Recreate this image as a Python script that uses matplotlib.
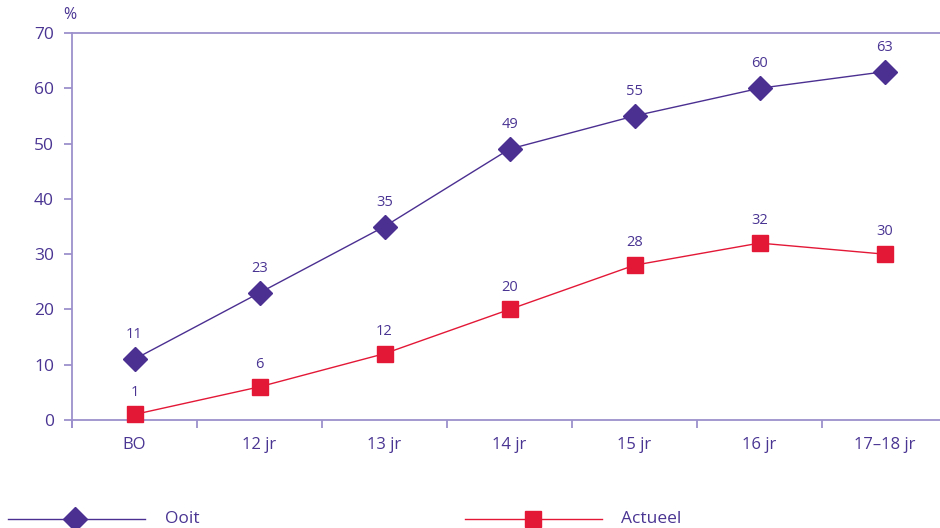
import matplotlib
matplotlib.use("Agg")
import matplotlib.pyplot as plt
from matplotlib.lines import Line2D

categories = ["BO", "12 jr", "13 jr", "14 jr", "15 jr", "16 jr", "17–18 jr"]
ooit = [11, 23, 35, 49, 55, 60, 63]
actueel = [1, 6, 12, 20, 28, 32, 30]
yticks = [0, 10, 20, 30, 40, 50, 60, 70]

TEXT = "#4a3593"
AXIS = "#9d91cd"
PURPLE = "#4b2f91"
RED = "#e31837"

plt.rcParams["font.family"] = ["Open Sans", "DejaVu Sans"]

fig = plt.figure(figsize=(9.4, 5.28), dpi=100)
W, H = 940, 528
ax = fig.add_axes([72 / W, 108 / H, 875 / W, 387 / H])

x = list(range(len(categories)))
ax.plot(x, ooit, color=PURPLE, lw=1, marker="D", ms=12,
        mfc=PURPLE, mec=PURPLE, zorder=3, clip_on=False)
ax.plot(x, actueel, color=RED, lw=1, marker="s", ms=11,
        mfc=RED, mec=RED, zorder=3, clip_on=False)

for xi, v in zip(x, ooit):
    ax.annotate(str(v), (xi, v), xytext=(0, 17.5), textcoords="offset points",
                ha="center", va="center", fontsize=10.5, color=TEXT)
for xi, v in zip(x, actueel):
    ax.annotate(str(v), (xi, v), xytext=(0, 16), textcoords="offset points",
                ha="center", va="center", fontsize=10.5, color=TEXT)

ax.set_xlim(-0.5, len(categories) - 0.5)
ax.set_ylim(0, 70)
ax.set_yticks(yticks)
ax.set_yticklabels([str(t) for t in yticks])
ax.set_xticks(x)
ax.set_xticklabels(categories)
ax.set_xticks([i - 0.5 for i in range(len(categories) + 1)], minor=True)

ax.spines["right"].set_visible(False)
for s in ["left", "bottom", "top"]:
    ax.spines[s].set_color(AXIS)
    ax.spines[s].set_linewidth(1.3)
ax.spines["left"].set_bounds(-1.2, 70)

ax.tick_params(axis="y", colors=AXIS, labelcolor=TEXT, labelsize=12.5,
               length=6, width=1.3, pad=7)
ax.tick_params(axis="x", which="major", length=0, labelcolor=TEXT,
               labelsize=12, pad=12)
ax.tick_params(axis="x", which="minor", length=6, width=1.3, colors=AXIS)

fig.text(70 / W, 1 - 15 / H, "%", ha="center", va="center",
         fontsize=11.5, color=TEXT)

# legend at the bottom
ly = 1 - 519 / H
fig.add_artist(Line2D([8 / W, 145 / W], [ly, ly], color=PURPLE, lw=1))
fig.add_artist(Line2D([75 / W], [ly], color=PURPLE, marker="D", ms=12, lw=0))
fig.text(165 / W, ly, "Ooit", va="center", fontsize=12.5, color=TEXT)
fig.add_artist(Line2D([465 / W, 602 / W], [ly, ly], color=RED, lw=1))
fig.add_artist(Line2D([533 / W], [ly], color=RED, marker="s", ms=11, lw=0))
fig.text(621 / W, ly, "Actueel", va="center", fontsize=12.5, color=TEXT)

fig.savefig("out.png", dpi=100)
